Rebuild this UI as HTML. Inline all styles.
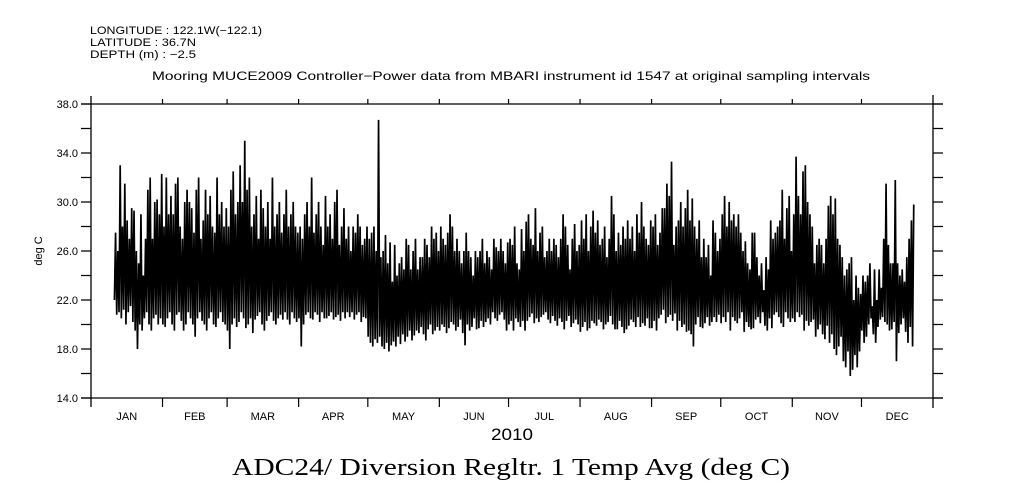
<!DOCTYPE html>
<html><head><meta charset="utf-8"><style>
body{margin:0;background:#fff;width:1009px;height:504px;overflow:hidden}
svg{display:block}
text{font-family:"Liberation Sans",sans-serif;fill:#000}
</style></head><body>
<svg id="chart" width="1009" height="504" viewBox="0 0 1009 504">
<g font-size="11">
<text x="90" y="34" textLength="172" lengthAdjust="spacingAndGlyphs">LONGITUDE : 122.1W(−122.1)</text>
<text x="90" y="46" textLength="106" lengthAdjust="spacingAndGlyphs">LATITUDE : 36.7N</text>
<text x="90" y="58" textLength="106" lengthAdjust="spacingAndGlyphs">DEPTH (m) : −2.5</text>
</g>
<text x="152" y="80" font-size="12" textLength="718" lengthAdjust="spacingAndGlyphs">Mooring MUCE2009 Controller−Power data from MBARI instrument id 1547 at original sampling intervals</text>
<text transform="translate(42,251) rotate(-90)" font-size="11" text-anchor="middle">deg C</text>
<text x="491" y="440" font-size="17" textLength="42" lengthAdjust="spacingAndGlyphs">2010</text>
<text x="232" y="475" font-size="24" textLength="558" lengthAdjust="spacingAndGlyphs" style="font-family:'Liberation Serif',serif">ADC24/ Diversion Regltr. 1 Temp Avg (deg C)</text>
<g id="axes"></g>
<g id="plot"></g>
</svg>
<script>
const yTicks=[14,16,18,20,22,24,26,28,30,32,34,36,38];
const yLabels=["14.0","18.0","22.0","26.0","30.0","34.0","38.0"];
const months=["JAN","FEB","MAR","APR","MAY","JUN","JUL","AUG","SEP","OCT","NOV","DEC"];
const monthDays=[31,28,31,30,31,30,31,31,30,31,30,31];
const startDay=10;
const dailyMax=[27.5,26,33,28,31.5,28.5,27,29.5,29.3,26,25,29,24,27,31,32,27,30,30.2,29,32.3,
28,32,29,30.5,29,31.5,32,28,27,30,31,30,29.5,27.5,31,32,27,28.5,31,29,30.5,28,27.5,32,29,30,28,29.5,
28,31,32.5,29,30,33,30,35,31,32,28,29,30.5,27,31,29.5,28,30,27,32,28,29,30,27.5,29,31,28,29,30,28,27.5,
28,27,29,30,28,32,27.5,29,30,28,26.5,30.5,28,29,27,30,31,26.5,28,29.5,27,28,26,28,27.5,29,28,26.5,27,28,
27,27.5,28,26,36.7,25.5,26,27.3,25,26.7,23.5,26.5,24,25,25.5,24.5,27,26.5,24.5,26,27,24.5,25.5,25.5,27,26.5,25.5,28,27,27.5,26,
28,27,26.5,27.5,29,28,26,27,26,25,26,27.5,26,25.5,24,26,25.5,26,27,25,26,25.5,24.5,27,26.3,26,27,26,25,26.7,
27,26.5,28,25,24.5,27.8,26,28.4,29,27,26.5,29.5,26,27.5,28,25.5,26,27,26,27,26.5,25.5,27,29,28,26.5,24.5,27,28.2,26,26.5,
28.5,27,29,26,28,29.3,27.5,28.5,26.5,27,28,25.5,27,30.5,29,26,27.5,26.5,28,27,28.5,27,28,26,29,27.5,30,28,27,26.5,28.5,
28,29,26.5,27.5,29.5,29.5,31.5,30.5,33.3,26.5,28,28.5,30,28,29.5,31,28.5,30.3,28,27,28.5,25.5,27,25.5,26.5,24,28.5,27.5,26,27,
29,30.5,28,30,28.5,29,28,29,27.5,26,26.8,25,24.5,27.5,27.5,25.5,24,25,22.8,25.5,24.5,28.5,27,27.5,28,28.5,31,27,29.5,30.5,26,
29,33.7,30.5,29,32.5,33,30,29,28,25,26.5,27,26.5,25,27,29.7,30.5,29,30.3,27,26.5,25.5,24,24.5,25,25.5,22,24,23,22.5,
24,23.5,24,25,21.5,24.5,22,24.5,23,27,31.5,26.5,25,25,31.8,25,24,24.5,23.5,25.5,27,28.5,29.8];
const dailyMin=[22,20.8,21,20.5,21.2,20,21,21.5,20.2,19.5,18,20,19.5,20.5,21,20,19.5,20.5,20.8,20,20.5,
20,19.8,20.5,21,20,19.5,20.8,21,20.3,19.5,20,21,20.5,20,19,20.5,21,20.3,20,19.5,20.5,21,20,19.8,20.5,21,20.2,20,
19.5,18,20,20.5,19.8,20.2,21,20.5,19.7,20,20.5,19.3,20.4,20.7,21,20,19.5,20.3,20.7,21,20.3,20,20.5,20.8,20.4,21,20.4,20,21,20.5,20.2,
20.5,18.2,20,20.8,21,20.5,20.4,21,20.8,20.2,21,20.5,20.5,20.7,21,20.4,20.6,20.8,20.3,21,20.5,21,20.6,21,20.4,20.8,21,20.2,20.6,20.5,
19,18.5,18.2,18.8,18.5,19,18.2,18,18.5,17.8,18.3,18.6,18.2,19,18.4,19.2,18.6,19,19.5,18.7,19.1,19.5,19.3,19.8,19.2,18.7,19.6,20,19.2,19.5,19.8,
19.5,20,19.8,19.3,19.7,20.2,20,19.5,19.8,20.4,19.3,18.3,20,19.5,19.8,20.5,19.6,19.7,20.3,19.8,20.2,20.5,20,21,20.5,20.3,20.8,21,20.4,19.5,
20,20.3,19.5,20.5,20.2,19.8,20.3,19.5,20.3,20.6,20.9,20.1,20.5,20.2,20.6,20.8,21,20.4,20.1,20.7,20.3,19.9,20.5,20.2,19.6,20.3,20.7,19.8,20.1,20.4,20,
19.4,19.8,20.2,19.5,19.7,20.3,20.1,19.9,20.4,20.2,19.6,20,20.2,20.7,20,19.6,19.6,20.3,19.8,19.3,19.6,19.9,20.4,20.2,19.8,20.6,19.8,20.1,19.9,20.5,19.7,
19.7,20.3,19.5,20.5,20.8,21.2,20.1,20.6,20.8,20.3,20.9,19.5,20.3,19.8,20,19.4,19.5,19.2,18.2,20,20.6,19.8,19.7,20.1,20.6,19.9,20.2,20.6,20.2,20.8,
20.1,20.6,20.2,21,19.5,20.6,20.3,20.1,20.5,21,19.4,20.2,19.8,19.6,19.7,20.4,20.6,20.1,21,19.9,19.5,20.5,19.7,20.8,21,20.6,20.1,19.8,21,20.5,20.2,
20.5,20.2,21,20.6,20.8,19.5,20.3,19.9,20.2,20.4,19,19.6,20,19.2,18.8,19.9,18.5,19.2,18,17.5,18.2,19,17,16.5,17.8,15.8,16.3,17.5,16.5,17.8,
19.5,18.5,19,20,20.5,19.2,18.5,19.8,20.4,20.6,20.2,20,19.5,19.6,20.2,17,19.3,20,20.5,19.4,18.5,19.8,18.2];

const L=91,R=933,T=104,B=398,yMin=14,yMax=38,daysInYear=365;
const xs=d=>L+(R-L)*d/daysInYear;
const ys=v=>B-(B-T)*(v-yMin)/(yMax-yMin);
const NS="http://www.w3.org/2000/svg";
function mk(tag,attrs,parent){const e=document.createElementNS(NS,tag);for(const k in attrs)e.setAttribute(k,attrs[k]);parent.appendChild(e);return e;}
const ax=document.getElementById('axes');
const frame=mk('path',{d:`M${L} ${T-8}V${B+9}M${R} ${T-9}V${B+10}M${L-10} ${T}H${R+10}M${L-10} ${B}H${R+10}`,stroke:'#000','stroke-width':1.3,fill:'none'},ax);


yTicks.forEach(v=>{
  const y=ys(v);
  const t=mk('path',{d:`M${L-10} ${y}H${L}M${R} ${y}H${R+10}`,stroke:'#000','stroke-width':1.2},ax);
  
  
});
yLabels.forEach(s=>{
  const t=mk('text',{x:L-13,y:ys(parseFloat(s))+4,'font-size':11,'text-anchor':'end'},ax);
  t.textContent=s;
  
  
});
let cum=0;
months.forEach((m,i)=>{
  const x=xs(cum);
  if(i>0){
    const t=mk('path',{d:`M${x} ${T-5}V${T}M${x} ${B}V${B+9}`,stroke:'#000','stroke-width':1.2},ax);
    
    
  }
  const lb=mk('text',{x:xs(cum+monthDays[i]/2),y:B+22,'font-size':11,'text-anchor':'middle'},ax);
  lb.textContent=m;
  
  
  cum+=monthDays[i];
});
const n=Math.min(dailyMax.length,dailyMin.length);
let pts=[];
for(let i=0;i<n;i++){
  const d=startDay+i;
  pts.push(xs(d+0.15).toFixed(2)+','+ys(dailyMin[i]).toFixed(2));
  pts.push(xs(d+0.65).toFixed(2)+','+ys(dailyMax[i]).toFixed(2));
}
const line=mk('polyline',{points:pts.join(' '),fill:'none',stroke:'#000','stroke-width':1.7,'stroke-linejoin':'miter','stroke-miterlimit':2},document.getElementById('plot'));


</script>
</body></html>
